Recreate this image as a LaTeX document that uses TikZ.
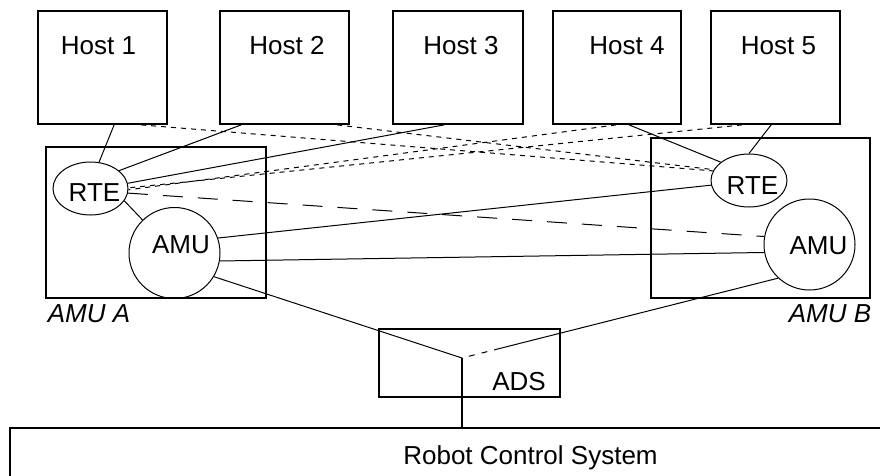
\documentclass[tikz,border=0pt]{standalone}
\usepackage{fontspec}
\setmainfont{Liberation Sans}
\usetikzlibrary{shapes.geometric,calc}
\begin{document}
\begin{tikzpicture}[x=1pt,y=-1pt,
  hostbox/.style={draw,line width=1.8pt,rectangle,minimum width=#1,minimum height=113pt,inner sep=0pt},
  bigbox/.style={draw,line width=1.8pt,rectangle,inner sep=0pt},
  oval/.style={draw,line width=1pt,ellipse,inner sep=0pt},
  ring/.style={draw,line width=1pt,circle,inner sep=0pt,minimum size=91pt},
  lbl/.style={anchor=base,inner sep=0pt,font=\fontsize{26}{30}\selectfont},
  conn/.style={line width=1pt},
  shortdash/.style={line width=1pt,dash pattern=on 5pt off 5pt},
  longdash/.style={line width=1pt,dash pattern=on 20pt off 15pt}]
\useasboundingbox (0,0) rectangle (880,476);
\clip (0,0) rectangle (880,476);
% hosts
\node[hostbox=129pt] (h1) at (102.5,67.5) {};
\node[hostbox=129pt] (h2) at (284.5,67.5) {};
\node[hostbox=130pt] (h3) at (458,67.5) {};
\node[hostbox=128pt] (h4) at (617,67.5) {};
\node[hostbox=129pt] (h5) at (775.5,67.5) {};
\node[lbl] (t1) at (98.5,55) {Host 1};
\node[lbl] (t2) at (287,55) {Host 2};
\node[lbl] (t3) at (461,55) {Host 3};
\node[lbl] (t4) at (627,55) {Host 4};
\node[lbl] (t5) at (778.5,55) {Host 5};
% AMU boxes
\node[bigbox,minimum width=220pt,minimum height=151pt] (boxA) at (156,222.5) {};
\node[bigbox,minimum width=219pt,minimum height=160pt] (boxB) at (760.5,218) {};
\node[oval,minimum width=75pt,minimum height=53pt] (rteA) at (90.5,188.5) {};
\node[oval,minimum width=76pt,minimum height=53pt] (rteB) at (749,180.5) {};
\node[ring] (amuA) at (174.5,253) {};
\node[ring] (amuB) at (809.5,244.5) {};
\node[lbl] (trA) at (94.5,201) {RTE};
\node[lbl] (taA) at (181,253) {AMU};
\node[lbl] (trB) at (752.5,194) {RTE};
\node[lbl] (taB) at (818.5,254) {AMU};
\node[lbl,font=\fontsize{26}{30}\selectfont\itshape] (labA) at (89,322) {AMU A};
\node[lbl,font=\fontsize{26}{30}\selectfont\itshape] (labB) at (830,322) {AMU B};
% ADS and robot
\node[bigbox,minimum width=181pt,minimum height=68pt] (ads) at (469.5,363) {};
\node[lbl] (tads) at (519,390) {ADS};
\node[bigbox,minimum width=900pt,minimum height=100pt,anchor=north west] (robot) at (9,427) {};
\node[lbl] (trob) at (530.5,464) {Robot Control System};
\coordinate (j) at (462,358);
% host connectors
\draw[conn] ([xshift=77pt]h1.south west) -- (rteA.72);
\draw[shortdash] ([xshift=104pt]h1.south west) -- (rteB.165);
\draw[conn] ([xshift=22pt]h2.south west) -- (rteA.32);
\draw[shortdash] ([xshift=118pt]h2.south west) -- (rteB.163);
\draw[conn] ([xshift=52pt]h3.south west) -- (rteA.8);
\draw[conn] ([xshift=77pt]h4.south west) -- (rteB.147);
\draw[shortdash] ([xshift=64pt]h4.south west) -- (rteA.-2);
\draw[conn] ([xshift=61pt]h5.south west) -- (rteB.90);
\draw[shortdash] ([xshift=32pt]h5.south west) -- (rteA.1);
% AMU connectors
\draw[conn] (rteA.-20) -- (amuA.134);
\draw[longdash] (rteA.-7) -- (amuB.170);
\draw[conn] (amuA.19) -- (rteB.187);
\draw[conn] (amuA.-10) -- (amuB.190);
\draw[conn] (amuA.-31) -- (j);
\draw[conn] (amuB.227) -- ($(amuB.227)!0.88!(j)$) coordinate (k);
\draw[line width=1pt,dash pattern=on 6pt off 7pt] (k) -- (j);
\draw[line width=1.8pt] (j) -- (j |- robot.north);
\end{tikzpicture}
\end{document}
